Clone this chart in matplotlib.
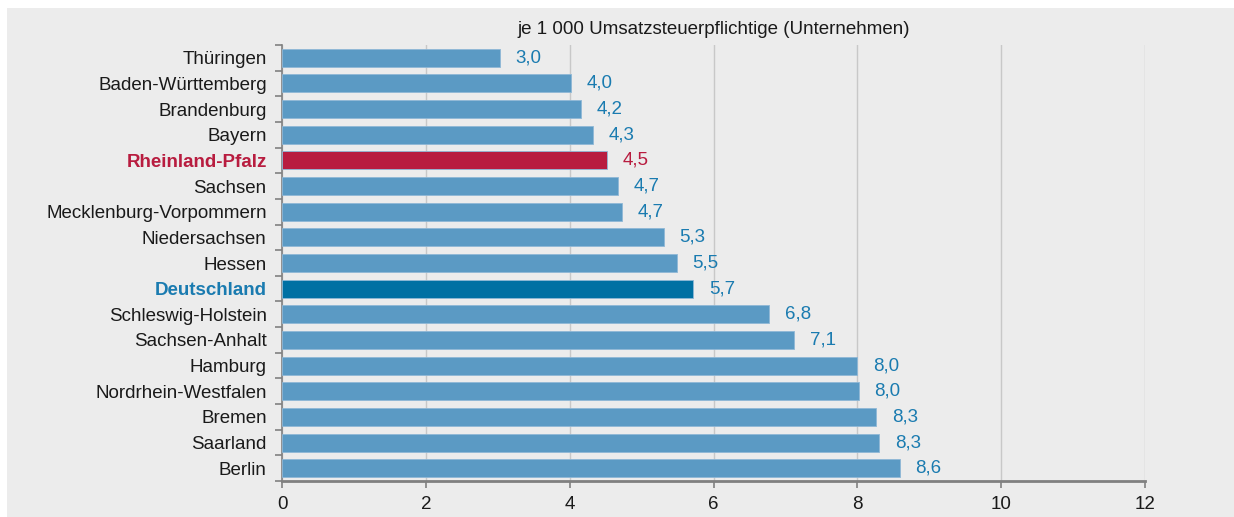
import matplotlib.pyplot as plt
from matplotlib.patches import Rectangle
from matplotlib.ticker import FixedLocator

plt.rcParams['font.family'] = ['Liberation Sans', 'DejaVu Sans']

laender = ["Thüringen", "Baden-Württemberg", "Brandenburg", "Bayern", "Rheinland-Pfalz",
           "Sachsen", "Mecklenburg-Vorpommern", "Niedersachsen", "Hessen", "Deutschland",
           "Schleswig-Holstein", "Sachsen-Anhalt", "Hamburg", "Nordrhein-Westfalen",
           "Bremen", "Saarland", "Berlin"]
werte = [3.03, 4.02, 4.16, 4.32, 4.52, 4.67, 4.73, 5.31, 5.49, 5.72,
         6.77, 7.12, 8.0, 8.02, 8.26, 8.30, 8.59]

bg = "#ececec"
blau = "#5b9ac4"
rot = "#b81c3f"
dunkelblau = "#0070a3"
labelblau = "#1a7bb0"
fs = 13.5

fig = plt.figure(figsize=(12.34, 5.17), dpi=100, facecolor="white")
fig.patches.append(Rectangle((7 / 1234, -0.1), 1.2, 1.1 - 8 / 517, transform=fig.transFigure,
                             facecolor=bg, edgecolor="none", zorder=-5))
ax = fig.add_axes([282 / 1234, 1 - 481 / 517, 863 / 1234, 436 / 517])
ax.set_facecolor(bg)

farben = []
for name in laender:
    if name == "Rheinland-Pfalz":
        farben.append(rot)
    elif name == "Deutschland":
        farben.append(dunkelblau)
    else:
        farben.append(blau)

y = list(range(len(laender)))
ax.barh(y, werte, height=0.7, color=farben, edgecolor="#8fb8d6", linewidth=0.6, zorder=3)

for i, v in enumerate(werte):
    farbe = rot if laender[i] == "Rheinland-Pfalz" else labelblau
    ax.text(v + 0.22, i, f"{v:.1f}".replace(".", ","), va="center", ha="left",
            fontsize=fs, color=farbe)

ax.set_xlim(0, 12)
ax.set_ylim(len(laender) - 0.5, -0.5)
ax.set_xticks(range(0, 13, 2))
ax.tick_params(axis="x", labelsize=fs, length=5, color="#808080", width=1.2, pad=6,
               labelcolor="#1a1a1a")
ax.set_yticks(y)
ax.set_yticklabels(laender, fontsize=fs)
ax.tick_params(axis="y", which="major", length=0, pad=11)
ax.yaxis.set_minor_locator(FixedLocator([i - 0.5 for i in range(len(laender) + 1)]))
ax.tick_params(axis="y", which="minor", length=5, color="#808080", width=1.2)

for lab in ax.get_yticklabels():
    if lab.get_text() == "Rheinland-Pfalz":
        lab.set_color(rot)
        lab.set_fontweight("bold")
    elif lab.get_text() == "Deutschland":
        lab.set_color(labelblau)
        lab.set_fontweight("bold")
    else:
        lab.set_color("#1a1a1a")

ax.grid(axis="x", color="#c8c8c8", linewidth=1, zorder=0)
for s in ["top", "right"]:
    ax.spines[s].set_visible(False)
ax.spines["left"].set_color("#808080")
ax.spines["left"].set_linewidth(1.2)
ax.spines["bottom"].set_color("#808080")
ax.spines["bottom"].set_linewidth(2)

ax.set_title("je 1 000 Umsatzsteuerpflichtige (Unternehmen)", fontsize=fs, pad=8, color="#1a1a1a")

fig.savefig("out.png", dpi=100, facecolor="white")
